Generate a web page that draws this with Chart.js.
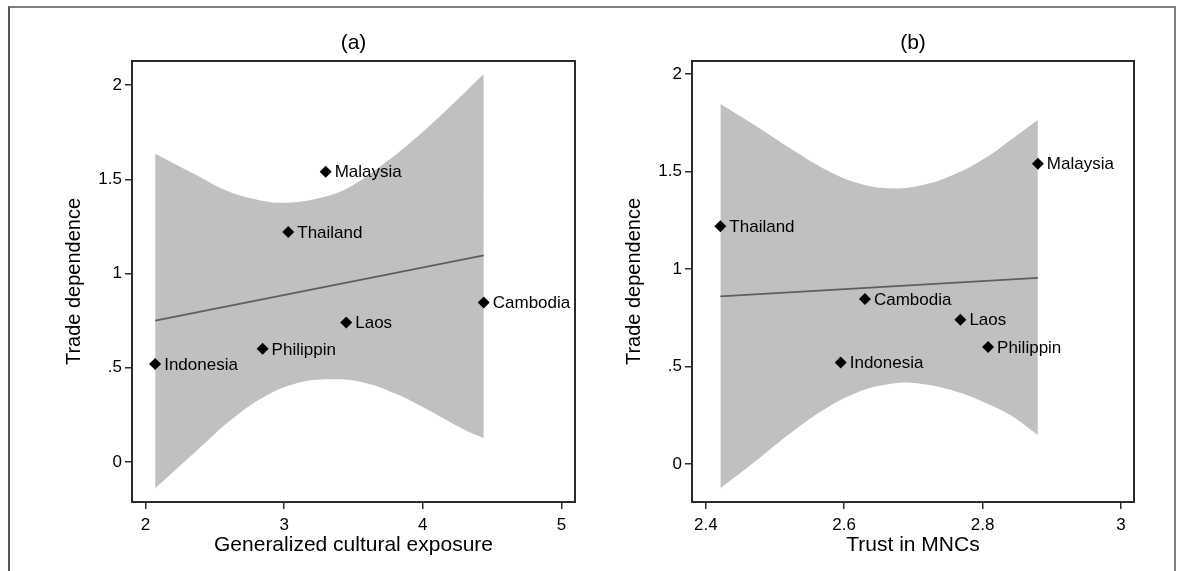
<!DOCTYPE html>
<html>
<head>
<meta charset="utf-8">
<script src="https://cdn.jsdelivr.net/npm/chart.js@4.4.0/dist/chart.umd.min.js"></script>
<style>
  html, body { margin: 0; padding: 0; background: #fff; overflow: hidden; }
  #frame {
    position: absolute; left: 8px; top: 6px; width: 1164px; height: 600px;
    border-top: 2px solid #7f7f7f; border-left: 2px solid #555; border-right: 2px solid #7f7f7f;
  }
  .panel { position: absolute; top: 0; }
  #panelA { left: 0; }
  #panelB { left: 590px; }
</style>
</head>
<body>
<div id="frame"></div>
<div class="panel" id="panelA"><canvas id="chartA" width="590" height="571"></canvas></div>
<div class="panel" id="panelB"><canvas id="chartB" width="587" height="571"></canvas></div>
<script>
// Countries and their values (same order everywhere)
const countries = ['Indonesia', 'Philippin', 'Laos', 'Cambodia', 'Thailand', 'Malaysia'];
const tradeDependence = [0.52, 0.60, 0.74, 0.846, 1.22, 1.54];
const culturalExposure = [2.07, 2.845, 3.448, 4.44, 3.03, 3.30];
const trustMNCs = [2.595, 2.808, 2.768, 2.63, 2.421, 2.88];

// Fitted lines
const fitAX = [2.07, 4.44];
const fitAY = [0.75, 1.096];
const fitBX = [2.421, 2.88];
const fitBY = [0.86, 0.955];

// Confidence band, panel (a)
const bandAUpperX = [2.07, 2.369, 2.609, 2.849, 3.018, 3.234, 3.45, 3.69, 3.93, 4.17, 4.44];
const bandAUpperY = [1.635, 1.521, 1.432, 1.385, 1.376, 1.397, 1.45, 1.566, 1.707, 1.867, 2.059];
const bandALowerX = [2.07, 2.369, 2.609, 2.849, 3.09, 3.33, 3.57, 3.81, 4.05, 4.29, 4.44];
const bandALowerY = [-0.14, 0.059, 0.218, 0.342, 0.417, 0.438, 0.422, 0.36, 0.271, 0.174, 0.126];

// Confidence band, panel (b)
const bandBUpperX = [2.421, 2.474, 2.522, 2.57, 2.618, 2.666, 2.714, 2.763, 2.811, 2.84, 2.88];
const bandBUpperY = [1.846, 1.73, 1.619, 1.516, 1.443, 1.414, 1.431, 1.491, 1.585, 1.66, 1.764];
const bandBLowerX = [2.421, 2.474, 2.522, 2.57, 2.618, 2.666, 2.705, 2.763, 2.811, 2.84, 2.88];
const bandBLowerY = [-0.125, 0.02, 0.157, 0.277, 0.366, 0.41, 0.414, 0.371, 0.303, 0.251, 0.149];

// Axis ticks
const yTicks = [0, 0.5, 1, 1.5, 2];
const yTickLabels = ['0', '.5', '1', '1.5', '2'];
const xTicksA = [2, 3, 4, 5];
const xTickLabelsA = ['2', '3', '4', '5'];
const xTicksB = [2.4, 2.6, 2.8, 3];
const xTickLabelsB = ['2.4', '2.6', '2.8', '3'];

const FONT = '"Liberation Sans", Arial, sans-serif';

function toXY(xs, ys) {
    return xs.map((x, i) => ({ x: x, y: ys[i] }));
}

// Draw country names to the right of each marker
const pointLabels = {
    id: 'pointLabels',
    afterDatasetsDraw(chart) {
        const ctx = chart.ctx;
        const meta = chart.getDatasetMeta(3);
        ctx.save();
        ctx.font = '17px ' + FONT;
        ctx.fillStyle = '#000';
        ctx.textBaseline = 'middle';
        meta.data.forEach((pt, i) => {
            ctx.fillText(countries[i], pt.x + 9, pt.y + 1);
        });
        ctx.restore();
    }
};

// Box around the plot region
const plotBox = {
    id: 'plotBox',
    afterDraw(chart) {
        const a = chart.chartArea;
        const ctx = chart.ctx;
        ctx.save();
        ctx.strokeStyle = '#2b2b2b';
        ctx.lineWidth = 2;
        ctx.strokeRect(a.left, a.top, a.right - a.left, a.bottom - a.top);
        ctx.restore();
    }
};

function makePanel(id, cfg) {
    const ctx = document.getElementById(id);
    new Chart(ctx, {
        type: 'line',
        data: {
            datasets: [
                {
                    data: toXY(cfg.upperX, cfg.upperY),
                    borderWidth: 0,
                    borderColor: 'rgba(0,0,0,0)',
                    backgroundColor: '#c0c0c0',
                    pointRadius: 0,
                    tension: 0.4,
                    fill: '+1',
                    order: 3
                },
                {
                    data: toXY(cfg.lowerX, cfg.lowerY),
                    borderWidth: 0,
                    borderColor: 'rgba(0,0,0,0)',
                    pointRadius: 0,
                    tension: 0.4,
                    fill: false,
                    order: 3
                },
                {
                    data: toXY(cfg.fitX, cfg.fitY),
                    borderColor: '#5e5e5e',
                    borderWidth: 1.8,
                    pointRadius: 0,
                    fill: false,
                    order: 2
                },
                {
                    data: toXY(cfg.pointX, tradeDependence),
                    showLine: false,
                    pointStyle: 'rectRot',
                    pointRadius: 6,
                    pointBackgroundColor: '#000',
                    pointBorderColor: '#000',
                    pointBorderWidth: 0,
                    fill: false,
                    order: 1
                }
            ]
        },
        options: {
            responsive: false,
            animation: false,
            events: [],
            layout: {
                padding: { left: cfg.padLeft, right: cfg.padRight, top: 0, bottom: 9 }
            },
            plugins: {
                legend: { display: false },
                tooltip: { enabled: false },
                title: {
                    display: true,
                    text: cfg.title,
                    fullSize: false,
                    color: '#000',
                    font: { family: FONT, size: 21, weight: 'normal' },
                    padding: { top: 30.4, bottom: 5.4 }
                }
            },
            scales: {
                x: {
                    type: 'linear',
                    min: cfg.xMin,
                    max: cfg.xMax,
                    afterBuildTicks: scale => { scale.ticks = cfg.xTicks.map(v => ({ value: v })); },
                    afterFit: scale => { scale.height = 60; },
                    grid: {
                        display: true,
                        drawOnChartArea: false,
                        drawTicks: true,
                        tickLength: 7,
                        tickColor: '#2b2b2b',
                        lineWidth: 1.5
                    },
                    border: { display: false },
                    ticks: {
                        color: '#000',
                        padding: 6,
                        maxRotation: 0,
                        font: { family: FONT, size: 17 },
                        callback: (value, index) => cfg.xTickLabels[index]
                    },
                    title: {
                        display: true,
                        text: cfg.xTitle,
                        color: '#000',
                        font: { family: FONT, size: 21 },
                        padding: { top: 0, bottom: 4 }
                    }
                },
                y: {
                    type: 'linear',
                    min: cfg.yMin,
                    max: cfg.yMax,
                    afterBuildTicks: scale => { scale.ticks = yTicks.map(v => ({ value: v })); },
                    afterFit: scale => { scale.width = 70; },
                    grid: {
                        display: true,
                        drawOnChartArea: false,
                        drawTicks: true,
                        tickLength: 7,
                        tickColor: '#2b2b2b',
                        lineWidth: 1.5
                    },
                    border: { display: false },
                    ticks: {
                        color: '#000',
                        padding: 3,
                        font: { family: FONT, size: 17 },
                        callback: (value, index) => yTickLabels[index]
                    },
                    title: {
                        display: true,
                        text: 'Trade dependence',
                        color: '#000',
                        font: { family: FONT, size: 20 },
                        padding: { top: 0, bottom: 0 }
                    }
                }
            }
        },
        plugins: [pointLabels, plotBox]
    });
}

makePanel('chartA', {
    title: '(a)',
    xTitle: 'Generalized cultural exposure',
    upperX: bandAUpperX, upperY: bandAUpperY,
    lowerX: bandALowerX, lowerY: bandALowerY,
    fitX: fitAX, fitY: fitAY,
    pointX: culturalExposure,
    xTicks: xTicksA, xTickLabels: xTickLabelsA,
    xMin: 1.903, xMax: 5.098,
    yMin: -0.213, yMax: 2.128,
    padLeft: 62, padRight: 15
});

makePanel('chartB', {
    title: '(b)',
    xTitle: 'Trust in MNCs',
    upperX: bandBUpperX, upperY: bandBUpperY,
    lowerX: bandBLowerX, lowerY: bandBLowerY,
    fitX: fitBX, fitY: fitBY,
    pointX: trustMNCs,
    xTicks: xTicksB, xTickLabels: xTickLabelsB,
    xMin: 2.38, xMax: 3.019,
    yMin: -0.195, yMax: 2.067,
    padLeft: 32, padRight: 43
});
</script>
</body>
</html>
